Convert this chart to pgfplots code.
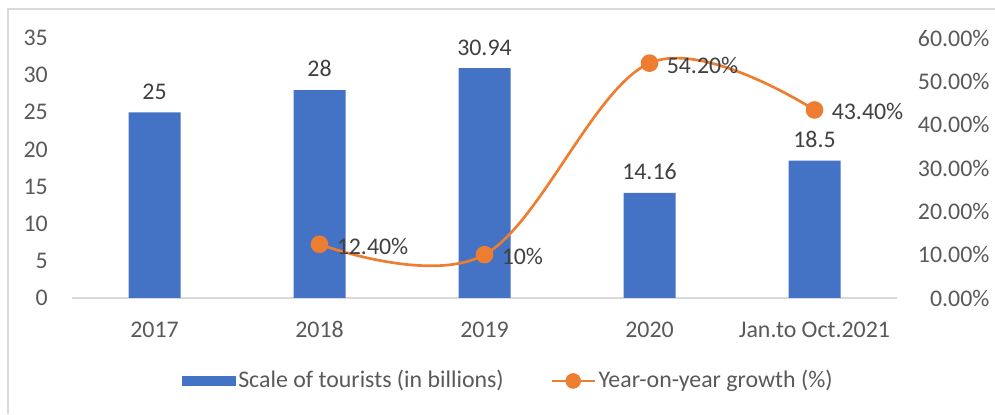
\documentclass[border=0pt]{standalone}
\usepackage{pgfplots}
\pgfplotsset{compat=1.18}
\usepackage{fontspec}
\setmainfont{Carlito}
\definecolor{cblue}{HTML}{4472C4}
\definecolor{corange}{HTML}{ED7D31}
\definecolor{ctext}{HTML}{595959}
\definecolor{clabel}{HTML}{404040}
\definecolor{cgrid}{HTML}{D9D9D9}
\newcommand{\cf}{\fontsize{17.9pt}{21pt}\selectfont}
\begin{document}
\begin{tikzpicture}
\cf
\useasboundingbox (0,0) rectangle (746.25pt,310.5pt);
\draw[cgrid, line width=0.9pt] (6pt,0) -- (6pt,303.75pt) -- (746.25pt,303.75pt);
\begin{axis}[
  at={(54pt,87pt)}, anchor=south west,
  scale only axis, width=618.75pt, height=195pt,
  xmin=-0.5, xmax=4.5, ymin=0, ymax=35,
  xtick={0,1,2,3,4},
  xticklabels={2017,2018,2019,2020,Jan.to Oct.2021},
  ytick={0,5,10,15,20,25,30,35},
  axis y line*=left, axis x line*=bottom,
  y axis line style={draw=none},
  x axis line style={cgrid, line width=0.9pt},
  major tick length=0pt,
  tick label style={font=\cf, text=ctext},
  yticklabel style={xshift=-12pt},
  xticklabel style={yshift=-11.5pt},
  /pgf/number format/assume math mode=true,
  ybar, bar width=39pt,
  nodes near coords,
  nodes near coords style={font=\cf, text=clabel, yshift=3.5pt},
  point meta=explicit symbolic,
  clip=false,
  legend style={draw=none, fill=none, at={(0.1285,-0.319)}, anchor=west,
    legend columns=2, font=\cf, text=ctext,
    /tikz/every even column/.append style={column sep=33pt}},
  legend image code/.code={\fill[cblue] (0pt,-3.75pt) rectangle (40pt,3.75pt);},
]
\addplot[fill=cblue, draw=none] coordinates {(0,25)[25] (1,28)[28] (2,30.94)[30.94] (3,14.16)[14.16] (4,18.5)[18.5]};
\addlegendentry{Scale of tourists (in billions)}
\addlegendimage{legend image code/.code={\draw[corange, line width=2pt] (0pt,0pt) -- (32pt,0pt); \fill[corange] (16pt,0pt) circle (5.6pt);}}
\addlegendentry{Year-on-year growth (\%)}
\end{axis}
\begin{axis}[
  at={(54pt,87pt)}, anchor=south west,
  scale only axis, width=618.75pt, height=195pt,
  xmin=-0.5, xmax=4.5, ymin=0, ymax=60,
  axis x line=none,
  axis y line*=right,
  y axis line style={draw=none},
  ytick={0,10,20,30,40,50,60},
  yticklabel={\pgfmathprintnumber[fixed,fixed zerofill,precision=2]{\tick}\%},
  major tick length=0pt,
  tick label style={font=\cf, text=ctext},
  yticklabel style={anchor=east, xshift=75.5pt},
  /pgf/number format/assume math mode=true,
  clip=false,
]
\addplot[corange, line width=2pt, smooth, tension=0.6, mark=*, mark size=5.6pt,
  mark options={fill=corange, draw=corange},
  nodes near coords, point meta=explicit symbolic,
  nodes near coords style={font=\cf, text=clabel, anchor=west, xshift=6pt, yshift=-1.5pt}]
  coordinates {(1,12.4)[12.40\%] (2,10)[10\%] (3,54.2)[54.20\%] (4,43.4)[43.40\%]};
\end{axis}
\end{tikzpicture}
\end{document}
